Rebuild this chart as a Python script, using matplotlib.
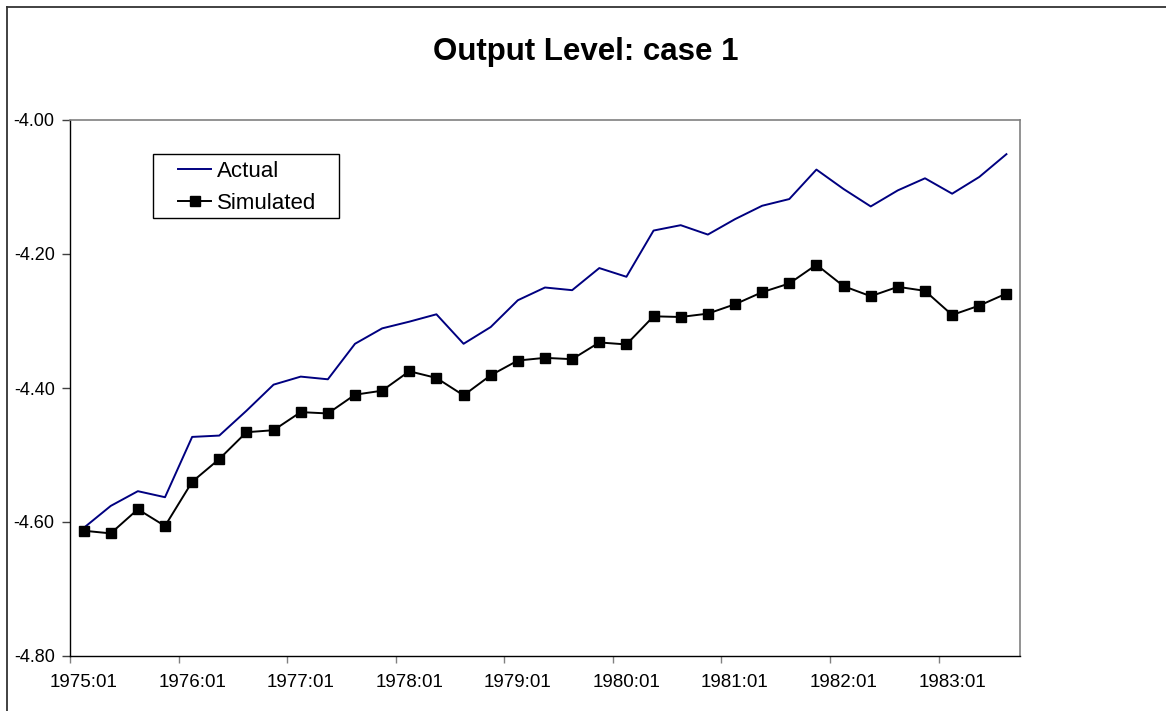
# plot.py — Output Level: case 1 (Actual vs Simulated), Excel-style line chart
import numpy as np
import matplotlib
matplotlib.use("Agg")
import matplotlib.pyplot as plt
from matplotlib.lines import Line2D
from matplotlib.patches import Rectangle
from matplotlib.ticker import FixedLocator, NullFormatter

plt.rcParams["font.family"] = ["Liberation Sans", "DejaVu Sans"]

# quarterly periods 1975:01 .. 1983:03
periods = [f"{y}:{q:02d}" for y in range(1975, 1984) for q in range(1, 5)][:35]
year_labels = ["1975:01", "1976:01", "1977:01", "1978:01", "1979:01",
               "1980:01", "1981:01", "1982:01", "1983:01"]

actual = [-4.609, -4.576, -4.554, -4.563, -4.473, -4.471, -4.434, -4.395,
          -4.383, -4.387, -4.334, -4.311, -4.301, -4.290, -4.334, -4.309,
          -4.269, -4.250, -4.254, -4.221, -4.234, -4.165, -4.157, -4.171,
          -4.148, -4.128, -4.118, -4.074, -4.103, -4.129, -4.105, -4.087,
          -4.110, -4.085, -4.051]
simulated = [-4.613, -4.617, -4.581, -4.606, -4.540, -4.506, -4.466, -4.463,
             -4.436, -4.438, -4.410, -4.404, -4.375, -4.385, -4.411, -4.381,
             -4.359, -4.355, -4.357, -4.332, -4.335, -4.293, -4.294, -4.289,
             -4.275, -4.257, -4.244, -4.216, -4.248, -4.263, -4.249, -4.255,
             -4.291, -4.277, -4.259]

y_ticks = [-4.80, -4.60, -4.40, -4.20, -4.00]

W, H = 1166, 711
fig = plt.figure(figsize=(W / 100, H / 100), dpi=100)
ax = fig.add_axes([70 / W, 1 - 656 / H, 950 / W, 536 / H])

x = np.arange(len(periods))
ax.plot(x, actual, color="#000080", lw=1.4, label="Actual")
ax.plot(x, simulated, color="black", lw=1.4, marker="s", ms=7.5,
        mec="black", mfc="black", label="Simulated")

ax.set_xlim(-0.5, len(periods) - 0.5)
ax.set_ylim(-4.80, -4.00)
ax.set_yticks(y_ticks)
ax.set_yticklabels([f"{v:.2f}" for v in y_ticks], fontsize=13)
ax.tick_params(axis="y", length=6, width=1, pad=5, color="#404040")

# labels on the first quarter of each year, tick marks on category boundaries
first_q = [periods.index(lab) for lab in year_labels]
ax.set_xticks(first_q)
ax.set_xticklabels(year_labels, fontsize=13.5)
ax.tick_params(axis="x", which="major", length=0, pad=13)
ax.xaxis.set_minor_locator(FixedLocator([i - 0.5 for i in first_q]))
ax.xaxis.set_minor_formatter(NullFormatter())
ax.tick_params(axis="x", which="minor", length=5, width=1, color="#808080")

for side in ("top", "right"):
    ax.spines[side].set_color("#808080")
    ax.spines[side].set_linewidth(1.2)
for side in ("left", "bottom"):
    ax.spines[side].set_color("black")
    ax.spines[side].set_linewidth(1.0)

# legend entries without frame; the Excel-style box is drawn separately
ax.legend(loc="upper left", bbox_to_anchor=((178 - 70) / 950, (656 - 161) / 536),
          fontsize=16, frameon=False, handlelength=1.5, handletextpad=0.25,
          borderpad=0, labelspacing=0.5, borderaxespad=0)
fig.add_artist(Rectangle((153 / W, 1 - 218 / H), 186 / W, 64 / H,
                         transform=fig.transFigure, fill=False,
                         edgecolor="black", lw=1.0))

fig.text(586 / W, 1 - 52 / H, "Output Level: case 1", ha="center", va="center",
         fontsize=22.5, fontweight="bold")

# outer chart border (only left and top edges visible)
fig.add_artist(Line2D([7 / W, 7 / W], [0, 1 - 7 / H], transform=fig.transFigure,
                      color="#333333", lw=1.3))
fig.add_artist(Line2D([7 / W, 1], [1 - 7 / H, 1 - 7 / H], transform=fig.transFigure,
                      color="#333333", lw=1.3))

fig.savefig("out.png", dpi=100)
